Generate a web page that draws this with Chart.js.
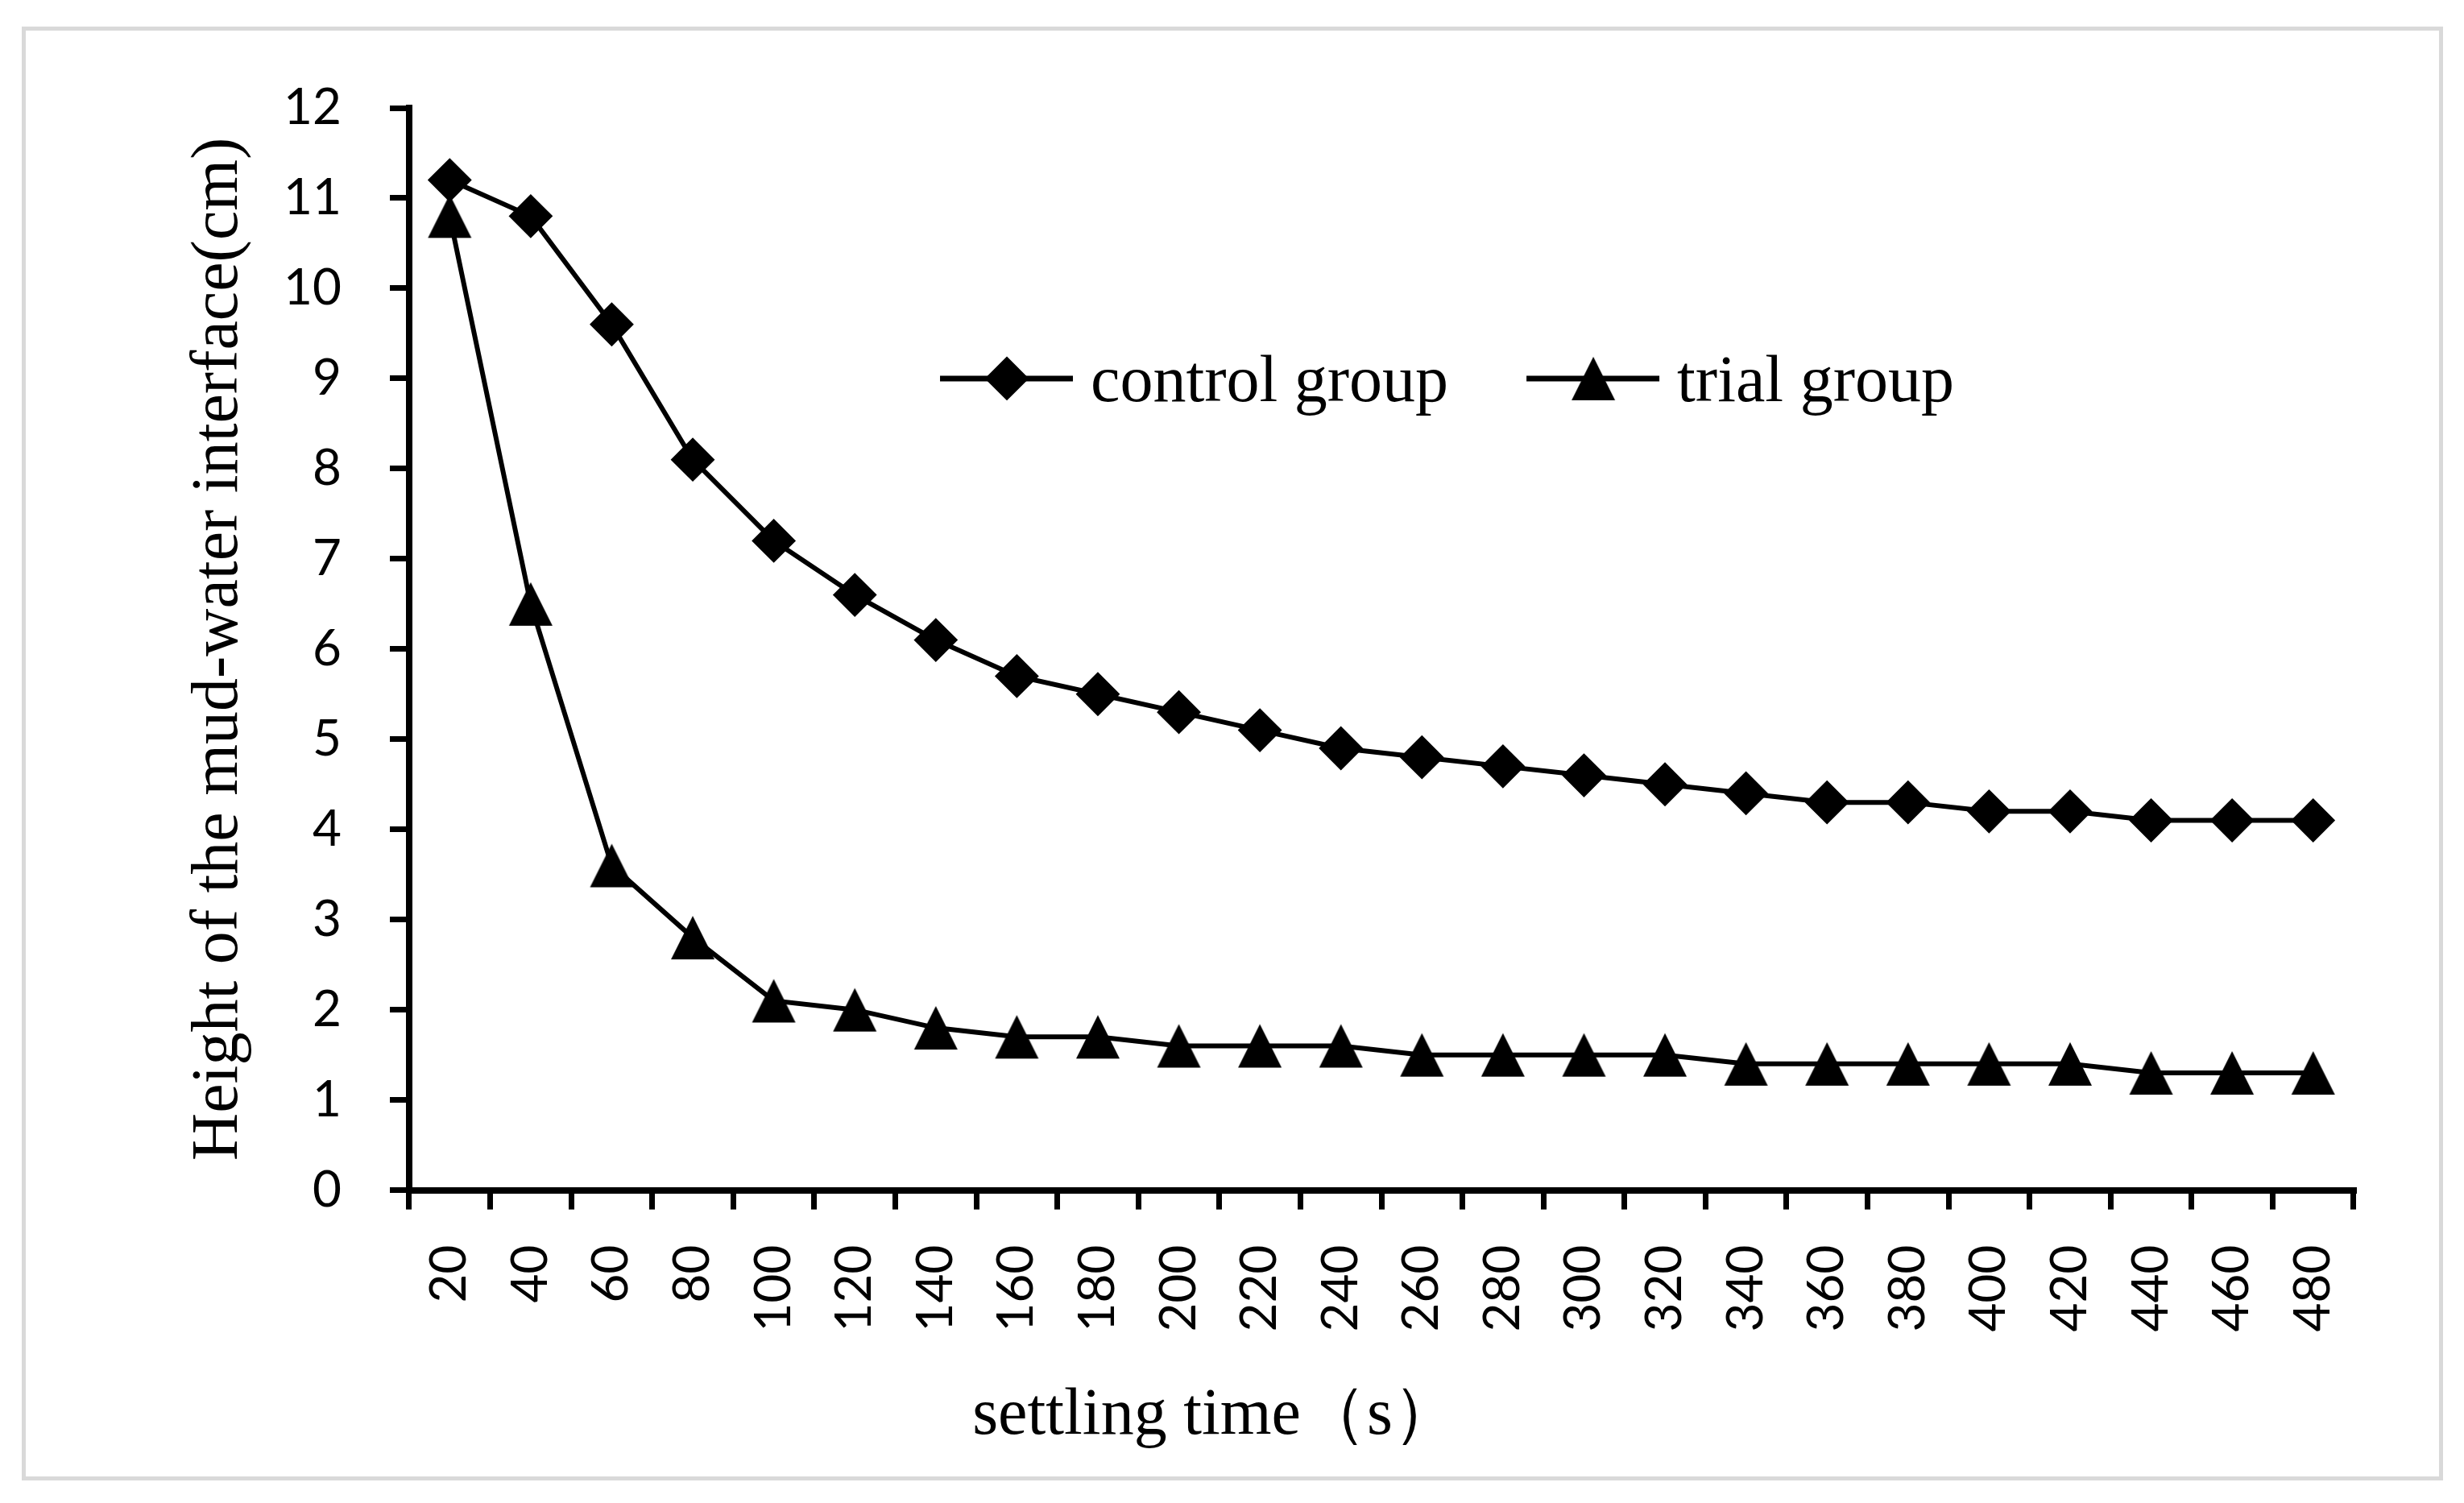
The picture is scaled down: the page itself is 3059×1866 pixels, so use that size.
<!DOCTYPE html>
<html>
<head>
<meta charset="utf-8">
<title>settling time</title>
<script src="https://cdn.jsdelivr.net/npm/chart.js@4.4.1/dist/chart.umd.min.js"></script>
<style>
  html, body { margin: 0; padding: 0; background: #fff; }
  #marco { position: absolute; left: 27px; top: 33px; width: 3006px; height: 1805px; border: 5px solid #d9d9d9; box-sizing: border-box; }
  #grafica { position: absolute; left: 0; top: 0; }
</style>
</head>
<body>
<div id="marco"></div>
<canvas id="grafica" width="3059" height="1866"></canvas>
<script>
"use strict"

// settling time (s)
var tiempos = ["20", "40", "60", "80", "100", "120", "140", "160", "180", "200", "220", "240",
               "260", "280", "300", "320", "340", "360", "380", "400", "420", "440", "460", "480"];

// height of the mud-water interface (cm)
var control = [11.2, 10.8, 9.6, 8.1, 7.2, 6.6, 6.1, 5.7, 5.5, 5.3, 5.1, 4.9,
               4.8, 4.7, 4.6, 4.5, 4.4, 4.3, 4.3, 4.2, 4.2, 4.1, 4.1, 4.1];
var ensayo = [10.8, 6.5, 3.6, 2.8, 2.1, 2.0, 1.8, 1.7, 1.7, 1.6, 1.6, 1.6,
              1.5, 1.5, 1.5, 1.5, 1.4, 1.4, 1.4, 1.4, 1.4, 1.3, 1.3, 1.3];

var nombres = ["control group", "trial group"];
var ejeY = { min: 0, max: 12, paso: 1 };

var main = function () {
    let self = this;
    let serif = "'Liberation Serif', 'Times New Roman', serif";
    let sans = "Lato, 'Open Sans', sans-serif";

    this.triangulo = function (w, h) {
        var c = document.createElement('canvas');
        c.width = w;
        c.height = h;
        var g = c.getContext('2d');
        g.fillStyle = '#000';
        g.beginPath();
        g.moveTo(w / 2, 1);
        g.lineTo(w - 1, h - 1);
        g.lineTo(1, h - 1);
        g.closePath();
        g.fill();
        return c;
    };

    // legend drawn inside the plot, like the original
    this.leyenda = {
        id: 'leyenda',
        afterDatasetsDraw: function (chart) {
            var ctx = chart.ctx;
            var a = chart.chartArea;
            var y = a.top + 0.25 * (a.bottom - a.top);
            var inicio = [0.273, 0.5746];
            ctx.save();
            chart.data.datasets.forEach(function (ds, i) {
                var x0 = a.left + inicio[i] * (a.right - a.left);
                ctx.strokeStyle = '#000';
                ctx.fillStyle = '#000';
                ctx.lineWidth = 7;
                ctx.beginPath();
                ctx.moveTo(x0, y);
                ctx.lineTo(x0 + 165, y);
                ctx.stroke();
                ctx.lineWidth = ds.pointBorderWidth;
                Chart.helpers.drawPoint(ctx, {
                    pointStyle: ds.pointStyle,
                    radius: ds.pointRadius,
                    rotation: 0,
                    borderWidth: ds.pointBorderWidth
                }, x0 + 83, y);
                ctx.font = "82px " + serif;
                ctx.textAlign = 'left';
                ctx.textBaseline = 'alphabetic';
                ctx.fillText(ds.label, x0 + 187, y + 28);
            });
            ctx.restore();
        }
    };

    this.init = function () {
        new Chart(document.getElementById("grafica"), {
            type: 'line',
            data: {
                labels: tiempos,
                datasets: [
                    {
                        label: nombres[0],
                        data: control,
                        borderColor: '#000',
                        backgroundColor: '#000',
                        borderWidth: 6,
                        pointStyle: 'rectRot',
                        pointRadius: 26,
                        pointBorderWidth: 2,
                        pointBackgroundColor: '#000',
                        pointBorderColor: '#000',
                        tension: 0,
                        clip: false
                    },
                    {
                        label: nombres[1],
                        data: ensayo,
                        borderColor: '#000',
                        backgroundColor: '#000',
                        borderWidth: 6,
                        pointStyle: self.triangulo(56, 56),
                        pointRadius: 28,
                        pointBorderWidth: 0,
                        tension: 0,
                        clip: false
                    }
                ]
            },
            options: {
                responsive: false,
                animation: false,
                devicePixelRatio: 1,
                color: '#000',
                layout: { padding: { left: 96, right: 137, top: 134, bottom: 0 } },
                plugins: {
                    legend: { display: false },
                    tooltip: { enabled: false },
                    title: {
                        display: true,
                        position: 'bottom',
                        text: 'settling time（s）',
                        color: '#000',
                        font: { family: serif, size: 82, weight: 'normal', lineHeight: 1.2 },
                        padding: { top: 0, bottom: 58 }
                    }
                },
                scales: {
                    x: {
                        offset: true,
                        grid: {
                            offset: true,
                            drawOnChartArea: false,
                            drawTicks: true,
                            tickLength: 24,
                            color: '#000',
                            lineWidth: 7
                        },
                        border: { display: true, color: '#000', width: 8 },
                        ticks: {
                            autoSkip: false,
                            minRotation: 90,
                            maxRotation: 90,
                            padding: 44,
                            color: '#000',
                            font: { family: sans, size: 62 }
                        },
                        afterFit: function (scale) { scale.height = 232; }
                    },
                    y: {
                        min: ejeY.min,
                        max: ejeY.max,
                        grid: {
                            drawOnChartArea: false,
                            drawTicks: true,
                            tickLength: 24,
                            color: '#000',
                            lineWidth: 7
                        },
                        border: { display: true, color: '#000', width: 8 },
                        ticks: {
                            stepSize: ejeY.paso,
                            padding: 60,
                            color: '#000',
                            font: { family: sans, size: 62 }
                        },
                        title: {
                            display: true,
                            text: 'Height of the mud-water interface(cm)',
                            color: '#000',
                            font: { family: serif, size: 82, lineHeight: 1.2 },
                            padding: { top: 127, bottom: 0 }
                        },
                        afterFit: function (scale) { scale.width = 412; }
                    }
                }
            },
            plugins: [self.leyenda]
        });
    };
};

new main().init();
</script>
</body>
</html>
